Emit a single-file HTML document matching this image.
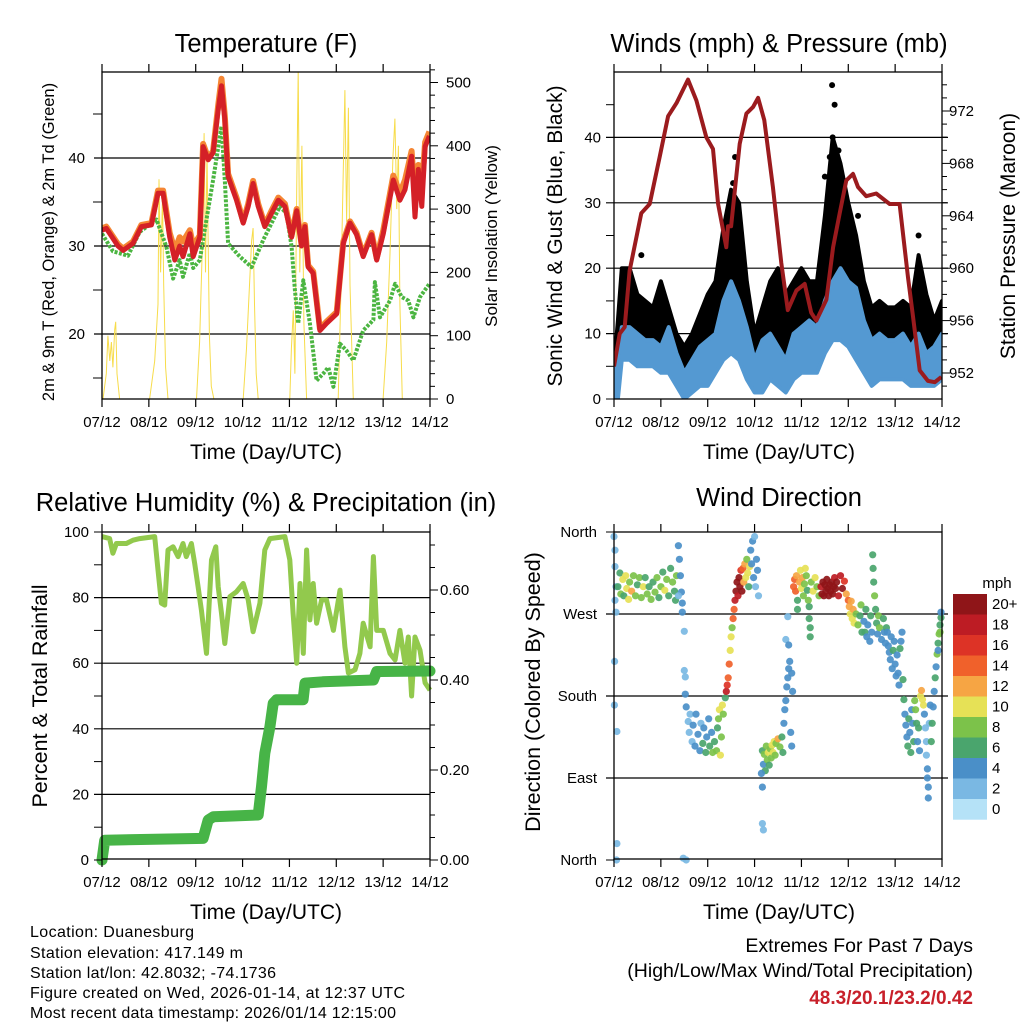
<!DOCTYPE html>
<html><head><meta charset="utf-8"><style>
html,body{margin:0;padding:0;background:#fff;}
svg{display:block;font-family:"Liberation Sans",Arial,sans-serif;}
</style></head><body>
<svg id="chart" width="1024" height="1024" viewBox="0 0 1024 1024">
<defs>
<clipPath id="c1"><rect x="102" y="72" width="328" height="327"/></clipPath>
<clipPath id="c2"><rect x="614" y="72" width="328" height="327"/></clipPath>
<clipPath id="c3"><rect x="96" y="526" width="340" height="340"/></clipPath>
<clipPath id="c4"><rect x="610" y="528" width="336" height="336"/></clipPath>
</defs>
<text x="266" y="52" font-size="25.5" text-anchor="middle">Temperature (F)</text>
<text x="779" y="52" font-size="25.5" text-anchor="middle">Winds (mph) &amp; Pressure (mb)</text>
<text x="266" y="511" font-size="25.5" text-anchor="middle">Relative Humidity (%) &amp; Precipitation (in)</text>
<text x="779" y="506" font-size="25.5" text-anchor="middle">Wind Direction</text>
<text x="266" y="459" font-size="21" text-anchor="middle">Time (Day/UTC)</text>
<text x="779" y="459" font-size="21" text-anchor="middle">Time (Day/UTC)</text>
<text x="266" y="919" font-size="21" text-anchor="middle">Time (Day/UTC)</text>
<text x="779" y="919" font-size="21" text-anchor="middle">Time (Day/UTC)</text>
<text transform="translate(54,242) rotate(-90)" font-size="16.5" text-anchor="middle">2m &amp; 9m T (Red, Orange) &amp; 2m Td (Green)</text>
<text transform="translate(497,236) rotate(-90)" font-size="17" text-anchor="middle">Solar Insolation (Yellow)</text>
<text transform="translate(562,236) rotate(-90)" font-size="21" text-anchor="middle">Sonic Wind &amp; Gust (Blue, Black)</text>
<text transform="translate(1015,236) rotate(-90)" font-size="21" text-anchor="middle">Station Pressure (Maroon)</text>
<text transform="translate(47,696) rotate(-90)" font-size="21.5" text-anchor="middle">Percent &amp; Total Rainfall</text>
<text transform="translate(540,692) rotate(-90)" font-size="21.5" text-anchor="middle">Direction (Colored By Speed)</text>
<g font-size="16">
<text x="30" y="937" textLength="164">Location: Duanesburg</text>
<text x="30" y="958" textLength="213">Station elevation: 417.149 m</text>
<text x="30" y="978" textLength="246">Station lat/lon: 42.8032; -74.1736</text>
<text x="30" y="998" textLength="375">Figure created on Wed, 2026-01-14, at 12:37 UTC</text>
<text x="30" y="1018" textLength="366">Most recent data timestamp: 2026/01/14 12:15:00</text>
</g>
<text x="973" y="952" font-size="19.5" text-anchor="end">Extremes For Past 7 Days</text>
<text x="973" y="977" font-size="19.5" text-anchor="end">(High/Low/Max Wind/Total Precipitation)</text>
<text x="973" y="1004" font-size="19" font-weight="bold" fill="#c8202a" text-anchor="end">48.3/20.1/23.2/0.42</text>
</svg>
<script>
const dayLabels=['07/12','08/12','09/12','10/12','11/12','12/12','13/12','14/12'];
const tTimes=[0,2.2,8.2,10.8,15.9,20.2,25.3,28.7,31.3,34.7,37.3,39.8,41.5,45,46.7,50.1,51.8,54.4,56.9,59.5,61.2,62.9,64.6,68.9,72.3,74.9,77.4,80,83.4,86.8,90.3,93.7,97.1,99.7,102.2,103.9,105.6,108.2,111.6,115,120.2,123.6,127,130.4,133.8,138.1,140.7,144.1,149.2,152.6,155.2,158.6,160.3,162,163.8,165.5,167.7];
const tRed=[31.8,32,30,29.5,30.3,32.2,32.4,36,36,31,28.4,30,28.8,31.4,28.8,31,41.3,39.8,40.6,45.5,48.2,44.4,37.9,35.2,32.6,34.5,37.1,34.5,32.2,33.7,35.2,34.5,31,34,30,32.2,27.6,26.9,20.4,21.2,22.3,30.3,32.6,31.3,28.8,31.3,28.4,31.4,37.5,35.2,36.4,40.2,33.3,38.7,34.5,41.3,42.5];
const tOrange=[32,32.2,30.2,29.7,30.5,32.4,32.6,36.3,36.3,31.5,29.5,31,30.5,31.8,30,31.2,41.6,40,40.8,46,49,44.8,38.2,35.5,32.8,34.8,37.4,34.8,32.4,34,35.5,34.8,31.2,34.2,30.2,32.4,27.8,27.1,20.6,21.4,22.5,30.5,32.8,31.5,29,31.5,28.6,31.8,38,36,37.5,40.8,35.5,39.2,36.5,41.8,43];
const tdTimes=[0,5.6,13.3,19.3,27.9,33,36.4,39.8,41.5,45,46.7,50.1,52.6,56.9,61.2,62.9,64.6,70.6,76.6,82.6,91.1,94.5,97.1,98.8,100.5,103.1,106.5,109.9,113.3,115.9,118.5,121.9,125.3,128.7,133.8,139,139.8,142.4,147.5,150.1,153.5,156.9,159.5,162.9,167.7];
const tdValues=[31.4,29.4,28.9,31.6,33,29.9,26.3,28.4,26.5,29.2,27.5,28.4,31.8,37.5,43.6,37.5,30.3,28.8,27.6,30.7,34.5,33.7,29.9,25,21.2,26.1,21.2,14.7,15.5,16.2,14,18.9,18.1,17,20.4,21.6,25.9,21.9,23.8,25.7,24.2,23.8,21.9,24.2,25.7];
const solarTimes=[0,0.5,2.2,3,4,4.8,5.6,6.5,7,7.7,9,24.4,27,28.7,29.2,30,31,31.6,32.6,33.8,48.4,50,51.5,52.3,53,53.8,55,56,57.3,72.3,74,75.4,76.6,77.4,78.1,79,80,96.2,97,98,98.8,99.7,100.5,101.3,102.4,103.4,104.8,121,122.2,123.2,124.4,125.3,126.2,127,128.7,144,145.8,147.5,149,150,151,151.8,152.6,153.8,168];
const solarValues=[0,0,40,100,60,90,50,110,122,40,0,0,60,150,347,200,320,180,50,0,0,90,250,420,200,390,100,20,0,0,80,170,250,270,150,40,0,0,80,140,40,330,520,200,400,120,0,0,150,300,488,280,460,180,0,0,90,230,380,443,300,400,150,0,0];
const windTimes=[0,2,4,8,12,16,20,24,28,32,36,40,44,48,52,56,60,64,68,72,76,80,84,88,92,96,100,104,108,112,116,120,124,128,132,136,140,144,148,152,156,160,164,168];
const windLow=[0,0,6,6,5,5,5,4,4,2,0,1,2,2,4,6,7,6,3,1,1,3,2,1,3,4,4,4,7,9,9,8,6,4,2,3,3,3,3,2,2,2,2,3];
const windHigh=[3,6,11,11,10,9,9,8,11,7,4,6,8,9,10,15,18,15,11,6,9,10,8,6,10,11,12,11,15,18,20,18,17,12,9,10,9,9,10,8,10,7,8,10];
const gustLow=[0,2,8,8,8,8,8,8,6,3,1,3,5,6,8,10,14,12,5,2,4,6,5,4,6,8,8,8,12,16,15,12,10,7,5,6,6,6,6,5,5,4,4,4];
const gustHigh=[5,12,20,20,16,15,14,18,14,10,8,10,13,16,18,26,32,30,18,10,14,18,20,16,18,20,18,18,28,40,36,30,25,18,14,15,14,14,15,14,22,16,12,15];
const gustPeakTimes=[111.7,113,112,110.5,62,61,14,125,156,108,115];
const gustPeakValues=[48,45,40,37,37,33,22,28,25,34,38];
const presTimes=[0,2.9,5.5,8,14,18.3,23.4,27.7,32,37.9,42.2,47.3,50.7,53.3,57.5,58.4,60,64.4,67.8,71.2,73.8,77,81.4,85.7,89,93.4,97.7,101,103.6,108.8,112.2,115.6,119,122.4,125,129.2,134.3,141.2,146.3,150.6,153,156.6,160.8,164.3,167.7];
const presValues=[952.5,955,955.5,959.8,964.2,964.9,968.5,971.6,972.6,974.4,972.8,970,969.1,964.9,961.6,963.2,963.2,969.5,971.8,972.3,973,971.3,966.2,960.4,956.8,958.3,958.8,956.6,956,957.6,961.6,964.2,966.7,967.2,966.2,965.5,965.7,964.9,964.9,959.3,956.5,952.2,951.4,951.3,951.7];
const rhTimes=[0,3.9,5.6,7.4,12.5,15.9,19.3,27,28.7,30.4,32.1,33.8,36.4,39,41.5,43.2,45.8,47.5,49.2,50.9,53.5,56.1,58.3,59.5,61.2,62.9,65.5,68.9,72.3,74.9,77.4,80.9,83.4,86,93.7,96.2,97.9,99.7,101.4,103.1,104.8,106.5,108.2,109.9,112.5,115,118.5,121.9,124.4,126.2,129.6,132.1,133.8,137.3,139,140.7,144.1,147.5,150.1,152.6,155.2,156.9,158.6,160.3,162.9,165.5,168];
const rhValues=[98.6,98,93.5,96.5,96.5,97.5,98,98.6,88.4,78.3,77.7,94.5,95.5,92.5,96.5,92.5,96.5,90.4,83.3,76.2,63,91.5,95.5,83.3,75.2,66,80.3,81.8,84.3,79.3,69.6,78.3,94.5,98,98.6,91.5,75.2,60,84.3,63,94.5,73.2,84.3,72.2,79.3,79.3,70,82.3,65,57,58,63,72.2,65,92.5,70,70,63,61,70,60,68,50,68,64,54,51.8];
const precipTimes=[0,1.4,51.8,54.4,57,80,81.7,83.4,86,87.7,89.4,103,104,113,139,140.7,168];
const precipValues=[0,0.044,0.048,0.089,0.096,0.1,0.163,0.237,0.296,0.348,0.356,0.356,0.393,0.396,0.4,0.419,0.42];
const dirHours=[0,0.5,0.5,1,0.5,1,0.3,0.2,1.5,1.5,1.3,
2,3,3.5,4.5,5,6,6.5,7.5,8,9,10,11,12,13,14,15,16,17,18,19,20,21,22,23,24,25,26,27,28,29,30,31,32,31.5,
33,33.5,34,34.5,35,35,33,
36,36,36.5,35.5,37,
36.5,37,38,38.5,39,40,40.5,41.5,42,43,44,44.5,45.5,46,47,47.5,48.5,49,50,50.5,51.5,52.5,53,53.5,54,54.5,55,55.5,56,
57,57.5,58,58.5,59,59.5,60,60.5,61,61.5,
62,62.5,63,63.5,64,64.5,65,65.5,66,66.5,67,67.5,68,68.5,69,69.5,
70,70.5,71,71.5,72,72.5,73,74,73.5,
76,76.5,77,77.5,78,78.5,79,79.5,80,80.5,81,81.5,82,82.5,83,84,85,86,86.5,76,76,76.5,75.5,
87,87.5,88,88.5,89,89.5,90,90.5,91,89,88,89.5,91,91.5,
92,92.5,93,93.5,94,94,
95,95.5,96,96.5,97,97.5,98,98.5,99,99.5,100,100,100.5,100.5,101,102,103,104,105,
106,106.5,107,107.5,108,108.5,109,109.5,110,110.5,111,111.5,112,112.5,113,113.5,114,115,116,117,118,119,
120,120.5,121,121.5,122,122.5,123,124,125,126,127,126.5,
128,128.5,129,129.5,130,131,131.5,132,132.5,132.7,133,133.5,134,134.5,135,135.5,136,137,138,138.5,139,139.5,
140,140.5,141,141.5,142,142.5,143,143.5,144,144.5,145,145.5,146,146.5,147,147.5,148,
148.5,149,149.5,150,150.5,151,151.5,152,152.5,153,153.5,154,154.5,155,155.5,156,156.5,157,157.5,158,158.5,159,159.5,160,160,160.5,160.5,161,161,161.5,162,
162.5,163,163.5,164,164.5,165,165.5,166,166.5,167,167.5,167.5,167,166];
const dirDegrees=[355,340,322,300,285,272,218,170,141,18,0,
300,315,292,308,290,312,298,286,305,295,312,290,302,310,288,300,310,292,300,286,305,294,310,288,300,316,296,308,290,320,305,295,312,285,
345,330,312,294,282,272,290,
251,208,201,2,0,
182,168,152,140,160,130,148,125,160,138,120,150,128,145,118,135,155,125,140,118,130,120,145,155,165,115,135,170,160,
178,185,192,200,215,230,245,255,265,275,
285,295,305,290,310,300,318,295,320,305,325,310,330,315,300,322,
340,325,350,310,355,300,330,290,318,
120,105,116,98,125,110,118,104,122,112,126,118,130,115,128,133,124,135,118,80,40,33,95,
150,165,175,190,200,210,218,140,125,267,242,236,205,185,
300,308,295,312,285,275,
305,318,298,310,290,303,320,312,296,285,278,265,255,245,305,295,310,300,290,
300,292,305,290,302,295,308,298,290,302,295,305,292,300,310,298,305,290,312,298,306,292,
285,278,270,284,265,275,260,270,258,268,250,280,
262,250,275,245,258,240,268,250,335,320,305,290,275,260,248,268,255,242,265,250,238,255,
250,235,228,220,245,210,230,240,215,202,225,205,192,232,240,250,198,
176,160,148,135,125,155,140,118,165,150,130,175,165,150,130,145,120,180,186,176,170,160,145,130,115,100,90,80,68,150,170,
130,150,168,185,200,212,226,238,248,258,266,272,250,230];
const dirSpeeds=[1,1,1,1,1,1,1,2,1,1,1,
5,6,8,9,6,10,9,10,8,11,7,8,6,8,7,10,6,7,6,7,6,8,7,6,7,6,10,7,6,6,7,6,7,6,
4,4,3,4,3,4,2,
1,1,1,1,1,
4,3,2,2,1,2,3,4,4,3,4,2,5,4,6,4,4,6,4,7,6,7,6,8,9,10,8,9,7,
6,17,15,14,13,10,9,8,13,14,
17,19,21,18,20,22,16,21,14,12,11,10,8,9,6,10,
4,4,3,4,2,2,4,2,3,
5,4,7,6,8,7,9,5,8,7,10,9,10,8,7,11,8,6,5,3,2,1,4,
3,4,4,3,4,3,3,4,4,2,2,4,4,3,
14,13,14,11,6,5,
12,10,9,11,8,7,10,8,6,7,6,6,6,6,7,9,10,8,7,
17,20,21,22,21,20,20,22,20,21,21,20,19,20,18,20,21,17,17,19,15,12,
14,12,10,12,9,11,10,7,8,6,5,7,
4,5,6,4,3,4,6,4,6,6,5,7,6,5,3,8,7,4,5,4,3,5,
4,3,4,4,3,4,5,4,4,3,4,4,4,6,4,4,5,
6,4,3,4,5,6,4,6,3,4,6,8,7,6,4,5,3,9,11,10,9,3,2,2,2,3,4,4,4,2,3,
5,6,4,4,5,4,7,6,7,6,6,4,7,4];
const speedLabels=['20+','18','16','14','12','10','8','6','4','2','0'];
const speedColors=['#8f1518','#bd1c24','#dd3326','#f0612b','#f6a544','#e6e156','#7cc24a','#4aa56d','#4a8fc8','#7ab8e3','#b5e2f7'];
const dirLabels=['North','East','South','West','North'];

const NS='http://www.w3.org/2000/svg';
const root=document.getElementById('chart');
function mk(tag,attrs,parent){const e=document.createElementNS(NS,tag);for(const k in attrs)e.setAttribute(k,attrs[k]);(parent||root).appendChild(e);return e;}
const W=328;
function xs(x0,h){return x0+h/168*W;}
const yT=v=>334-(v-20)*8.8;
const ySol=v=>399-v*0.633;
const yW=v=>399-v*6.54;
const yP=p=>373-(p-952)*13.1;
const yRH=v=>860-v*3.28;
const yPr=v=>860-v*450;
const yD=d=>860-d*328/360;

function pathFrom(x0,times,vals,yf){let d='';for(let i=0;i<times.length;i++){d+=(i?'L':'M')+xs(x0,times[i]).toFixed(1)+','+yf(vals[i]).toFixed(1);}return d;}
function group(clip,name){const g=mk('g',{'clip-path':'url(#'+clip+')'});return g;}
function line(x1,y1,x2,y2,sw,col,parent){return mk('line',{x1:x1,y1:y1,x2:x2,y2:y2,stroke:col||'#000','stroke-width':sw||1},parent);}
function txt(x,y,s,anchor,size){const t=mk('text',{x:x,y:y,'text-anchor':anchor,'font-size':size||15});t.textContent=s;return t;}

[20,30,40].forEach(v=>{const l=line(94,yT(v),430,yT(v),1.2);});
[10,20,30,40].forEach(v=>{const l=line(606,yW(v),948,yW(v),1.2);});
[20,40,60,80].forEach(v=>{const l=line(94,yRH(v),430,yRH(v),1.2);});
[90,180,270].forEach(v=>{const l=line(606,yD(v),948,yD(v),1.2);});

const g1=group('c1','temperature-plot');
const sol=mk('path',{d:pathFrom(102,solarTimes,solarValues,ySol),fill:'none',stroke:'#f7dc4a','stroke-width':1},g1);


const td=mk('path',{d:pathFrom(102,tdTimes,tdValues,yT),fill:'none',stroke:'#4bb541','stroke-width':4,'stroke-dasharray':'3 1.5','stroke-linejoin':'round'},g1);


const tor=mk('path',{d:pathFrom(102,tTimes,tOrange,yT),fill:'none',stroke:'#f58634','stroke-width':6,'stroke-linejoin':'round'},g1);


const tr=mk('path',{d:pathFrom(102,tTimes,tRed,yT),fill:'none',stroke:'#d42027','stroke-width':5,'stroke-linejoin':'round'},g1);



const g2=group('c2','winds-plot');
function band(lo,hi,col){let d='';for(let i=0;i<windTimes.length;i++)d+=(i?'L':'M')+xs(614,windTimes[i]).toFixed(1)+','+yW(hi[i]).toFixed(1);for(let i=windTimes.length-1;i>=0;i--)d+='L'+xs(614,windTimes[i]).toFixed(1)+','+yW(lo[i]).toFixed(1);d+='Z';return mk('path',{d:d,fill:col,stroke:col,'stroke-width':4,'stroke-linejoin':'round'},g2);}
const gb=band(gustLow,gustHigh,'#000');


for(let i=0;i<gustPeakTimes.length;i++){const c=mk('circle',{cx:xs(614,gustPeakTimes[i]),cy:yW(gustPeakValues[i]),r:3,fill:'#000'},g2);

}
const wb=band(windLow,windHigh,'#5499d2');


const pr=mk('path',{d:pathFrom(614,presTimes,presValues,yP),fill:'none',stroke:'#9b1b1e','stroke-width':4,'stroke-linejoin':'round'},g2);



const g3=group('c3','humidity-plot');
const rh=mk('path',{d:pathFrom(102,rhTimes,rhValues,yRH),fill:'none',stroke:'#92c94d','stroke-width':5,'stroke-linejoin':'round'},g3);


const pc=mk('path',{d:pathFrom(102,precipTimes,precipValues,yPr),fill:'none',stroke:'#47b447','stroke-width':11,'stroke-linejoin':'round','stroke-linecap':'round'},g3);



const g4=group('c4','direction-plot');
for(let i=0;i<dirHours.length;i++){const idx=10-Math.min(10,Math.round(dirSpeeds[i]/2));
const c=mk('circle',{cx:xs(614,dirHours[i]).toFixed(1),cy:yD(dirDegrees[i]).toFixed(1),r:3.6,fill:speedColors[idx],'fill-opacity':0.92},g4);

}

[[102,72],[614,72],[102,532],[614,532]].forEach(p=>{
const r=mk('rect',{x:p[0],y:p[1],width:W,height:327,fill:'none',stroke:'#000','stroke-width':1.3});


for(let d=0;d<8;d++){const x=p[0]+d*W/7;
const t1=line(x,p[1]-8,x,p[1],1.2);


const t2=line(x,p[1]+327,x,p[1]+335,1.2);


const lb=txt(x,p[1]+355,dayLabels[d],'middle',15);

}
});
function yTicks(xEdge,dir,vals,yf,len){vals.forEach(v=>{const y=yf(v);const t=line(xEdge,y,xEdge+dir*len,y,1);

});}
function yLabels(x,anchor,vals,yf,fmt){vals.forEach(v=>{const t=txt(x,yf(v)+5,fmt(v),anchor,15);

});}
yTicks(102,-1,[15,25,35,45],yT,9);
yLabels(85,'end',[20,30,40],yT,v=>String(v));
yTicks(430,1,[0,100,200,300,400,500],ySol,8);
yTicks(430,1,[20,40,60,80,120,140,160,180,220,240,260,280,320,340,360,380,420,440,460,480,500,520],ySol,5);
yLabels(446,'start',[0,100,200,300,400,500],ySol,v=>String(v));
yTicks(614,-1,[0,5,15,25,35,45],yW,8);
yLabels(601,'end',[0,10,20,30,40],yW,v=>String(v));
yTicks(942,1,[952,956,960,964,968,972],yP,8);
yTicks(942,1,[951,953,954,955,957,958,959,961,962,963,965,966,967,969,970,971,973,974],yP,5);
yLabels(949,'start',[952,956,960,964,968,972],yP,v=>String(v));
yTicks(102,-1,[0,10,30,50,70,90,100],yRH,8);
yLabels(89,'end',[0,20,40,60,80,100],yRH,v=>String(v));
yTicks(430,1,[0,0.2,0.4,0.6],yPr,8);
yTicks(430,1,[0.05,0.1,0.15,0.25,0.3,0.35,0.45,0.5,0.55,0.65,0.7],yPr,5);
yLabels(440,'start',[0,0.2,0.4,0.6],yPr,v=>v.toFixed(2));
yTicks(614,-1,[0,360],yD,8);
dirLabels.forEach((s,i)=>{const t=txt(597,yD(i*90)+5,s,'end',15);

});
const ct=txt(997,588,'mph','middle',15);


speedColors.forEach((c,i)=>{const y=594+i*20.5;
const r=mk('rect',{x:953,y:y,width:34,height:20.7,fill:c});


const t=txt(992,y+15,speedLabels[i],'start',15);

});
</script>
</body></html>
